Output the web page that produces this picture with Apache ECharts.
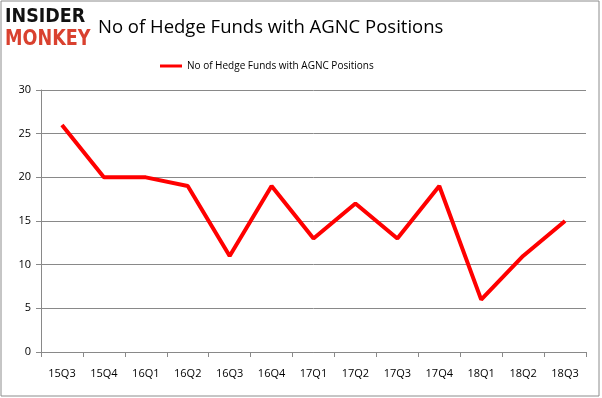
<!DOCTYPE html>
<html><head><meta charset="utf-8">
<script src="https://cdn.jsdelivr.net/npm/echarts@6/dist/echarts.min.js"></script>
<style>html,body{margin:0;padding:0;background:#fff}#c{width:602px;height:398px}</style>
</head><body><div id="c"></div>
<script>
var categories = ['15Q3','15Q4','16Q1','16Q2','16Q3','16Q4','17Q1','17Q2','17Q3','17Q4','18Q1','18Q2','18Q3'];
var values = [26,20,20,19,11,19,13,17,13,19,6,11,15];
var seriesName = 'No of Hedge Funds with AGNC Positions';
var chart = echarts.init(document.getElementById('c'), null, {renderer:'canvas'});
chart.setOption({
  animation:false,
  backgroundColor:'#fff',
  title:{text:seriesName,left:93,top:13,textStyle:{fontFamily:'Open Sans',fontSize:18.5,fontWeight:'normal',color:'#000'}},
  legend:{top:56,left:155,itemWidth:22,itemHeight:3,icon:'rect',itemGap:5,textStyle:{fontFamily:'Open Sans',fontSize:10,color:'#000'},data:[seriesName]},
  grid:{left:41,top:90,right:16,bottom:46},
  xAxis:{type:'category',data:categories,boundaryGap:true,
    axisLine:{lineStyle:{color:'#898989',width:1}},
    axisTick:{show:true,length:5,lineStyle:{color:'#898989'}},
    axisLabel:{color:'#000',fontFamily:'Open Sans',fontSize:11,margin:16}},
  yAxis:{type:'value',min:0,max:30,interval:5,
    axisLine:{show:true,lineStyle:{color:'#898989'}},
    axisTick:{show:true,length:5,inside:false,lineStyle:{color:'#898989'}},
    splitLine:{lineStyle:{color:'#898989'}},
    axisLabel:{color:'#000',fontFamily:'Open Sans',fontSize:11,margin:10}},
  series:[{name:seriesName,type:'line',data:values,symbol:'none',lineStyle:{color:'#ff0000',width:4},itemStyle:{color:'#ff0000'}}],
  graphic:[
    {type:'rect',shape:{x:1,y:1,width:598,height:395},style:{fill:'none',stroke:'#8c8c8c',lineWidth:1},z:-1},
    {type:'text',x:5,y:8,scaleX:0.92,scaleY:1.0,style:{text:'INSIDER',font:'900 19px "DejaVu Sans"',fill:'#111'}},
    {type:'text',x:5,y:28,scaleX:0.88,scaleY:1.1,style:{text:'MONKEY',font:'900 20px "DejaVu Sans"',fill:'#d9412f'}}
  ]
});
</script></body></html>
